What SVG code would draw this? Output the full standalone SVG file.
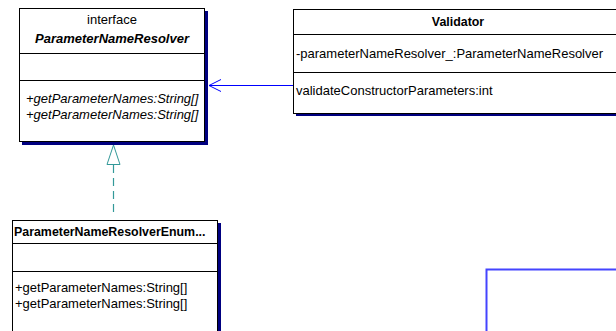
<svg xmlns="http://www.w3.org/2000/svg" width="616" height="331" viewBox="0 0 616 331">
<style>
text{font-family:"Liberation Sans",Arial,sans-serif;font-size:13px;fill:#000}
.b{font-weight:bold;font-size:12.4px}
.bi{font-weight:bold;font-style:italic;font-size:13px}
.i{font-style:italic}
.box{fill:#fff;stroke:#000;stroke-width:1}
.sh{fill:#000080}
.div{stroke:#000;stroke-width:1}
</style>
<rect width="616" height="331" fill="#fff"/>
<g id="connectors">
<line x1="293" y1="85.5" x2="209" y2="85.5" stroke="#0000ff" stroke-width="1"/>
<polyline points="221,79.5 209,85.5 221,91.5" fill="none" stroke="#0000ff" stroke-width="1"/>
<line x1="113.5" y1="165" x2="113.5" y2="216" stroke="#339999" stroke-width="1.2" stroke-dasharray="8,5"/>
<polygon points="113.5,145 107,164.5 120,164.5" fill="#fff" stroke="#339999" stroke-width="1"/>
<polyline points="486.5,331 486.5,269.5 616,269.5" fill="none" stroke="#4444ff" stroke-width="2"/>
</g>
<g id="ParameterNameResolver">
<rect class="sh" x="22" y="11" width="186" height="134"/>
<rect class="box" x="19.5" y="8.5" width="185" height="133"/>
<line class="div" x1="19.5" y1="53.5" x2="204.5" y2="53.5"/>
<line class="div" x1="19.5" y1="80.5" x2="204.5" y2="80.5"/>
<text x="112" y="24" text-anchor="middle">interface</text>
<text x="112" y="43" text-anchor="middle" class="bi">ParameterNameResolver</text>
<text x="26" y="103" class="i">+getParameterNames:String[]</text>
<text x="26" y="119" class="i">+getParameterNames:String[]</text>
</g>
<g id="Validator">
<rect class="sh" x="296" y="12" width="330" height="104"/>
<rect class="box" x="293.5" y="9.5" width="330" height="104"/>
<line class="div" x1="293.5" y1="34.5" x2="623.5" y2="34.5"/>
<line class="div" x1="293.5" y1="72.5" x2="623.5" y2="72.5"/>
<text x="458" y="26" text-anchor="middle" class="b">Validator</text>
<text x="296" y="58">-parameterNameResolver_:ParameterNameResolver</text>
<text x="296" y="95">validateConstructorParameters:int</text>
</g>
<g id="ParameterNameResolverEnum">
<rect class="sh" x="15" y="223" width="206" height="120"/>
<rect class="box" x="12.5" y="220.5" width="205" height="120"/>
<line class="div" x1="12.5" y1="243.5" x2="217.5" y2="243.5"/>
<line class="div" x1="12.5" y1="271.5" x2="217.5" y2="271.5"/>
<text x="14" y="236" class="b">ParameterNameResolverEnum...</text>
<text x="15" y="292">+getParameterNames:String[]</text>
<text x="15" y="308">+getParameterNames:String[]</text>
</g>
</svg>
